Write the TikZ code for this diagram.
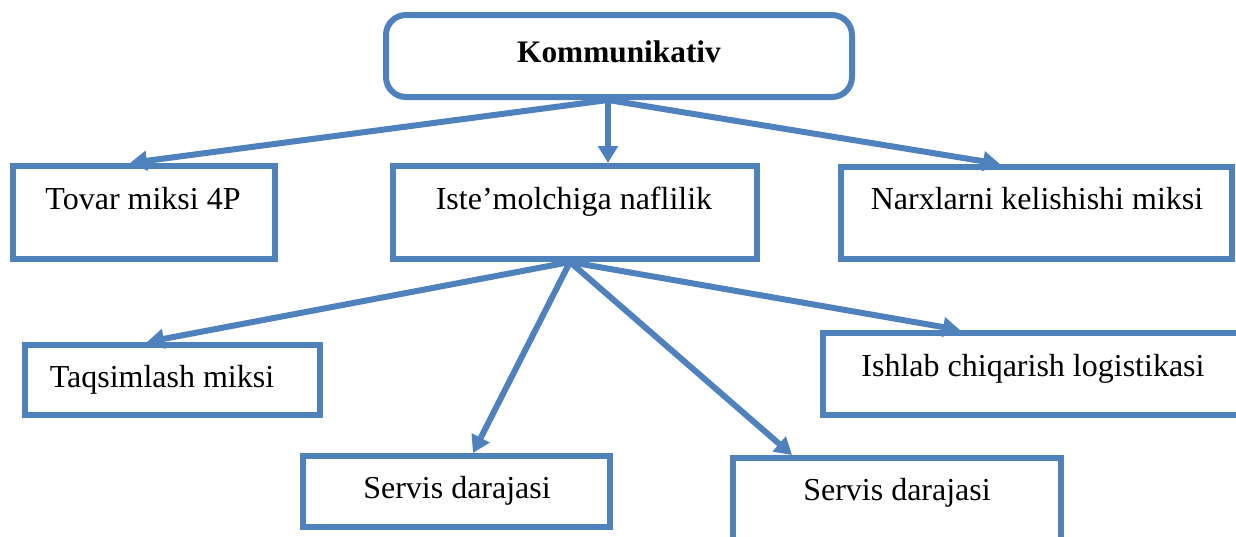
\documentclass[tikz,border=0pt]{standalone}
\usepackage{fontspec}
\setmainfont{Liberation Serif}
\usetikzlibrary{arrows.meta}
\definecolor{boxblue}{HTML}{4F81BD}
\begin{document}
\begin{tikzpicture}[x=0.75pt,y=-0.75pt,
  box/.style={draw=boxblue, line width=4.5pt, rectangle, inner sep=0pt},
  txt/.style={anchor=base, inner sep=0pt, font=\fontsize{24pt}{28pt}\selectfont},
  link/.style={draw=boxblue, line width=4.5pt,
    -{Triangle[length=12.75pt,width=14.5pt]}}]
\useasboundingbox (0,0) rectangle (1236,536);
\clip (0,0) rectangle (1236,536);

% boxes
\node[box, rounded corners=15pt, minimum width=466*0.75pt, minimum height=82*0.75pt] (komm) at (619,56) {};
\node[box, minimum width=262*0.75pt, minimum height=93*0.75pt] (tovar) at (144,212.5) {};
\node[box, minimum width=364*0.75pt, minimum height=93*0.75pt] (iste) at (575,212.5) {};
\node[box, minimum width=391*0.75pt, minimum height=92*0.75pt] (narx) at (1036.5,213) {};
\node[box, minimum width=295*0.75pt, minimum height=70*0.75pt] (taqs) at (172.5,380) {};
\node[box, minimum width=422*0.75pt, minimum height=82*0.75pt] (ishlab) at (1034,374) {};
\node[box, minimum width=307*0.75pt, minimum height=71*0.75pt] (serv1) at (456.5,491.5) {};
\node[box, minimum width=328*0.75pt, minimum height=90*0.75pt] (serv2) at (897,503) {};

% texts
\node[txt, font=\fontsize{23.5pt}{28pt}\selectfont\bfseries] at (619,62) {Kommunikativ};
\node[txt] at (143,209) {Tovar miksi 4P};
\node[txt] at (574,209) {Iste’molchiga naflilik};
\node[txt] at (1037,209) {Narxlarni kelishishi miksi};
\node[txt] at (162,387) {Taqsimlash miksi};
\node[txt] at (1033,376) {Ishlab chiqarish logistikasi};
\node[txt] at (457,498) {Servis darajasi};
\node[txt] at (897,500) {Servis darajasi};

% connectors
\coordinate (ks) at ([shift={(-11,0)}]komm.south);
\coordinate (is) at ([shift={(-5,0)}]iste.south);
\draw[link] (ks) -- ([shift={(-14,0)}]tovar.north);
\draw[link] (ks) -- ([shift={(33,0)}]iste.north);
\draw[link] (ks) -- ([shift={(-36.5,0)}]narx.north);
\draw[link] (is) -- ([shift={(-25.5,0)}]taqs.north);
\draw[link] (is) -- ([shift={(16.5,0)}]serv1.north);
\draw[link] (is) -- ([shift={(-105,0)}]serv2.north);
\draw[link] (is) -- ([shift={(-74,0)}]ishlab.north);
\end{tikzpicture}
\end{document}
